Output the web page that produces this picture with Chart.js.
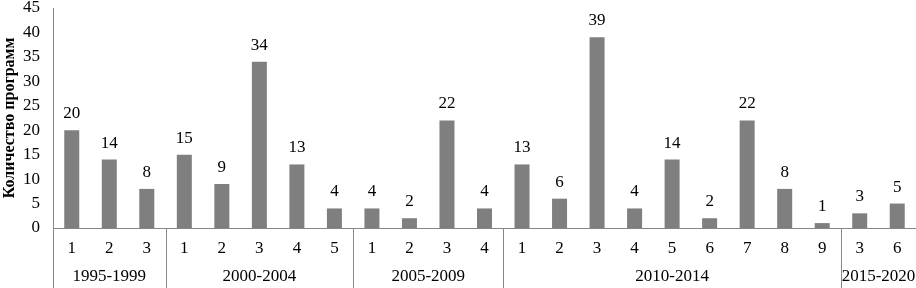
<!DOCTYPE html>
<html>
<head>
<meta charset="utf-8">
<script src="https://cdn.jsdelivr.net/npm/chart.js@4/dist/chart.umd.min.js"></script>
<style>
  html, body { margin: 0; padding: 0; background: #fff; }
  #wrap { width: 916px; height: 288px; }
</style>
</head>
<body>
<div id="wrap"><canvas id="progChart"></canvas></div>
<script>
// sub-labels under each bar
const subLabels = ['1', '2', '3', '1', '2', '3', '4', '5', '1', '2', '3', '4',
  '1', '2', '3', '4', '5', '6', '7', '8', '9', '3', '6'];
// program counts
const counts = [20, 14, 8, 15, 9, 34, 13, 4, 4, 2, 22, 4,
  13, 6, 39, 4, 14, 2, 22, 8, 1, 3, 5];
// period groups and how many bars each one spans
const groupNames = ['1995-1999', '2000-2004', '2005-2009', '2010-2014', '2015-2020'];
const groupSizes = [3, 5, 4, 9, 2];
const yTicks = [0, 5, 10, 15, 20, 25, 30, 35, 40, 45];

const FONT = 'Liberation Serif, Times New Roman, serif';
const LINE = '#868686';

// value labels over the bars
const valueLabels = {
    id: 'valueLabels',
    afterDatasetsDraw(chart) {
        const ctx = chart.ctx;
        const meta = chart.getDatasetMeta(0);
        ctx.save();
        ctx.font = '17px ' + FONT;
        ctx.fillStyle = '#000';
        ctx.textAlign = 'center';
        ctx.textBaseline = 'alphabetic';
        meta.data.forEach((bar, i) => {
            ctx.fillText(counts[i], bar.x, bar.y - 12);
        });
        ctx.restore();
    }
};

// group separators + period names under the numbers
const groupAxis = {
    id: 'groupAxis',
    afterDraw(chart) {
        const {ctx, chartArea, scales} = chart;
        const x = scales.x;
        const half = (x.getPixelForValue(1) - x.getPixelForValue(0)) / 2;
        const bottom = chart.height;
        ctx.save();
        ctx.strokeStyle = LINE;
        ctx.lineWidth = 1;
        // y axis line continues down
        ctx.beginPath();
        ctx.moveTo(Math.round(chartArea.left) + 0.5, chartArea.bottom);
        ctx.lineTo(Math.round(chartArea.left) + 0.5, bottom);
        ctx.stroke();

        ctx.font = '17px ' + FONT;
        ctx.fillStyle = '#000';
        ctx.textAlign = 'center';
        ctx.textBaseline = 'middle';
        let start = 0;
        groupSizes.forEach((n, g) => {
            const end = start + n - 1;
            const left = x.getPixelForValue(start) - half;
            const right = x.getPixelForValue(end) + half;
            if (g < groupSizes.length - 1) {
                ctx.beginPath();
                ctx.moveTo(Math.round(right) + 0.5, chartArea.bottom);
                ctx.lineTo(Math.round(right) + 0.5, bottom);
                ctx.stroke();
            }
            ctx.fillText(groupNames[g], (left + right) / 2, 277);
            start += n;
        });
        ctx.restore();
    }
};

new Chart(document.getElementById('progChart'), {
    type: 'bar',
    plugins: [valueLabels, groupAxis],
    data: {
        labels: subLabels,
        datasets: [{
            data: counts,
            backgroundColor: '#7f7f7f',
            barPercentage: 0.4,
            categoryPercentage: 1.0
        }]
    },
    options: {
        responsive: true,
        maintainAspectRatio: false,
        animation: false,
        devicePixelRatio: 1,
        layout: { padding: { top: 8, right: 0, left: 0, bottom: 0 } },
        plugins: {
            legend: { display: false },
            tooltip: { enabled: false }
        },
        scales: {
            x: {
                grid: { display: false, drawTicks: false },
                border: { display: true, color: LINE },
                ticks: {
                    color: '#000',
                    font: { family: FONT, size: 17 },
                    padding: 10,
                    maxRotation: 0,
                    autoSkip: false
                },
                afterFit(scale) {
                    scale.height = 60;
                    scale.paddingLeft = 0;
                    scale.paddingRight = 0;
                }
            },
            y: {
                min: 0,
                max: 45,
                afterBuildTicks(scale) {
                    scale.ticks = yTicks.map(v => ({ value: v }));
                },
                grid: { display: false, drawTicks: false },
                border: { display: true, color: LINE },
                ticks: {
                    color: '#000',
                    font: { family: FONT, size: 17 },
                    padding: 13,
                    autoSkip: false
                },
                title: {
                    display: true,
                    text: 'Количество программ',
                    color: '#000',
                    font: { family: FONT, size: 16, weight: 'bold' },
                    padding: 0
                },
                afterFit(scale) {
                    scale.width = 53;
                    scale.paddingTop = 0;
                    scale.paddingBottom = 0;
                }
            }
        }
    }
});
</script>
</body>
</html>
